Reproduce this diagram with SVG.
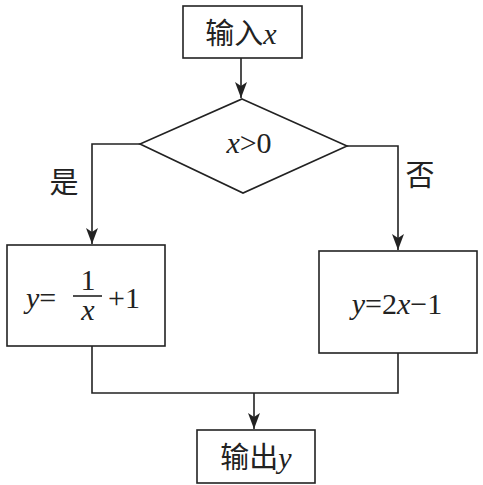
<svg xmlns="http://www.w3.org/2000/svg" width="483" height="485" viewBox="0 0 483 485">
<style>
.b{fill:#fff;stroke:#222;stroke-width:1.6}
.l{fill:none;stroke:#222;stroke-width:1.6}
.cn{font-family:"Noto Sans CJK SC","Noto Sans CJK TC",sans-serif;font-size:29px;fill:#222}
.m{font-family:"Liberation Serif",serif;font-size:30px;fill:#222}
.i{font-style:italic}
</style>
<defs>
<marker id="a" markerWidth="16" markerHeight="12" refX="16" refY="6" orient="auto" markerUnits="userSpaceOnUse" viewBox="0 0 16 12">
<path d="M0,0 L16,6 L0,12 L4,6 Z" fill="#222"/>
</marker>
</defs>
<g id="connectors">
<path class="l" d="M241,58 V98" marker-end="url(#a)"/>
<path class="l" d="M140,144 H92 V244" marker-end="url(#a)"/>
<path class="l" d="M347,146 H398 V250" marker-end="url(#a)"/>
<path class="l" d="M92,346 V393 H398 V353"/>
<path class="l" d="M254,393 V429" marker-end="url(#a)"/>
<text class="cn" x="64" y="193" text-anchor="middle">是</text>
<text class="cn" x="420" y="186" text-anchor="middle">否</text>
</g>
<g id="input">
<rect class="b" x="183" y="6" width="119" height="52"/>
<text x="241" y="44" text-anchor="middle"><tspan class="cn">输入</tspan><tspan class="m i">x</tspan></text>
</g>
<g id="decision">
<path class="b" d="M242,99 L347,146 L243,193 L140,144 Z"/>
<text class="m" x="249" y="153" text-anchor="middle"><tspan class="i">x</tspan>&gt;0</text>
</g>
<g id="yes">
<rect class="b" x="7" y="245" width="158" height="101"/>
<text class="m" x="26" y="308"><tspan class="i">y</tspan>=</text>
<text class="m" x="88" y="290" text-anchor="middle">1</text>
<line class="l" x1="73" y1="296" x2="102" y2="296" stroke-width="1.3"/>
<text class="m i" x="88" y="320" text-anchor="middle">x</text>
<text class="m" x="108" y="308">+1</text>
</g>
<g id="no">
<rect class="b" x="319" y="251" width="158" height="102"/>
<text class="m" x="397" y="314" text-anchor="middle"><tspan class="i">y</tspan>=2<tspan class="i">x</tspan>−1</text>
</g>
<g id="output">
<rect class="b" x="197" y="430" width="118" height="53"/>
<text x="256" y="468" text-anchor="middle"><tspan class="cn">输出</tspan><tspan class="m i">y</tspan></text>
</g>
</svg>
